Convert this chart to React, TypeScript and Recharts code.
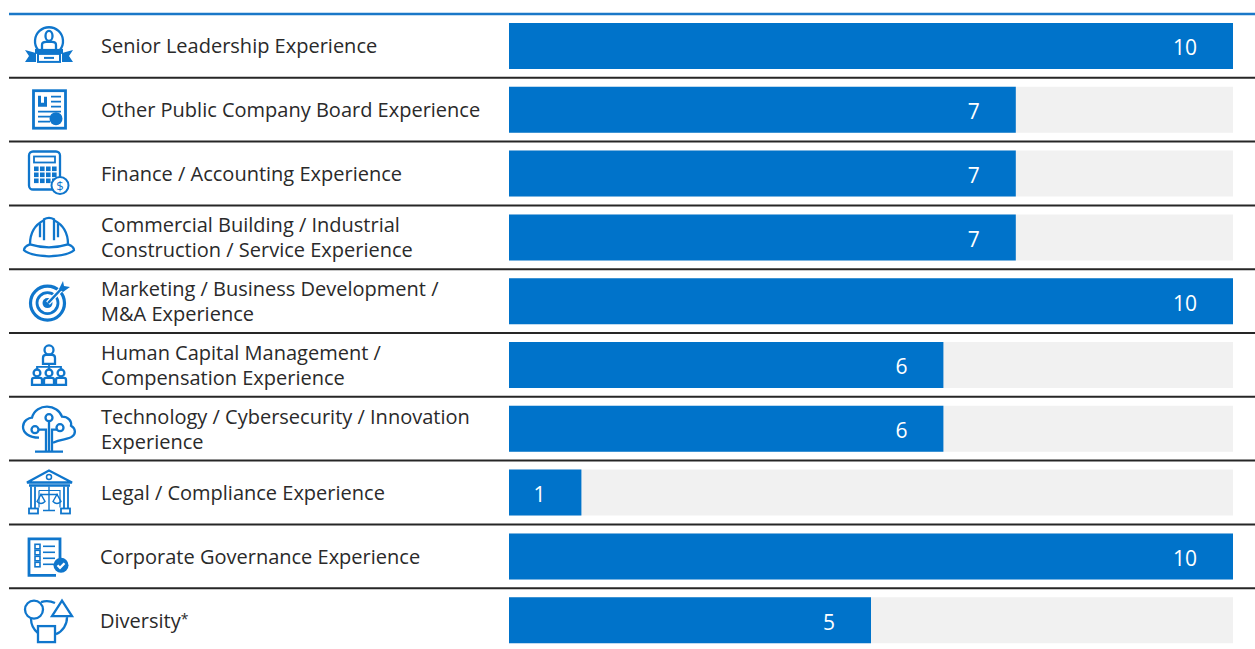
import { BarChart, Bar, XAxis, YAxis, LabelList } from 'recharts';

const categories = [
  'Senior Leadership Experience',
  'Other Public Company Board Experience',
  'Finance / Accounting Experience',
  'Commercial Building / Industrial\nConstruction / Service Experience',
  'Marketing / Business Development /\nM&A Experience',
  'Human Capital Management /\nCompensation Experience',
  'Technology / Cybersecurity / Innovation\nExperience',
  'Legal / Compliance Experience',
  'Corporate Governance Experience',
  'Diversity*',
];
const directorCounts = [10, 7, 7, 7, 10, 6, 6, 1, 10, 5];
const boardSize = 10;

const BLUE = '#0073ca';
const ICON_BLUE = '#0f76cc';
const TEXT = '#2a2a2a';
const FONT = '"Open Sans", sans-serif';
const PLOT_TOP = 14;
const PLOT_HEIGHT = 638;
const ROW = PLOT_HEIGHT / categories.length;

const data = categories.map((name, i) => ({ name, count: directorCounts[i] }));

const line = { fill: 'none', stroke: ICON_BLUE, strokeWidth: 2.3 };
const solid = { fill: ICON_BLUE, stroke: 'none' };

// icons are drawn around the row centre
const icons = [
  <g key="leader">
    <path d="M-11 4 A14 14 0 1 1 11 4" {...line} />
    <ellipse cx={0} cy={-10} rx={3.5} ry={5} {...line} />
    <path d="M-7 3 V-1 Q-7 -4 -3 -4 H3 Q7 -4 7 -1 V3" {...line} />
    <path d="M-24 4 L-13 7 V16 H-24 L-20 10 Z M24 4 L13 7 V16 H24 L20 10 Z" {...solid} />
    <rect x={-14} y={3} width={28} height={5} {...solid} />
    <rect x={-11} y={8} width={22} height={8} fill="#fff" stroke={ICON_BLUE} strokeWidth={2} />
    <rect x={-5} y={11} width={10} height={2} {...solid} />
  </g>,
  <g key="report">
    <rect x={-15.5} y={-19} width={32} height={37.5} fill="none" stroke={ICON_BLUE} strokeWidth={2.8} />
    <path d="M-11 -14 H-8 V-7 H-5 V-13 H-2 V-3 H-11 Z" {...solid} />
    <path d="M2 -13 H12 M2 -8 H12 M2 -3 H12 M-11 2 H12 M-11 7 H1 M-11 12 H1" {...line} strokeWidth={1.8} />
    <circle cx={7} cy={9} r={6.5} {...solid} />
  </g>,
  <g key="calc">
    <rect x={-20} y={-22} width={31} height={38} rx={4} {...line} />
    <rect x={-15} y={-17} width={21} height={6} {...line} strokeWidth={1.8} />
    {[-7, -1, 5].map((y) => [-15, -9, -3, 3].map((x) => (
      <rect key={`${x}${y}`} x={x} y={y} width={4.6} height={4.6} {...solid} />
    )))}
    <circle cx={11} cy={12} r={8.5} fill="#fff" stroke={ICON_BLUE} strokeWidth={2} />
    <text x={11} y={17} textAnchor="middle" fontSize={13} fontFamily={FONT} fill={ICON_BLUE}>$</text>
  </g>,
  <g key="helmet">
    <path d="M-19 7 C-19 -6 -13 -13 -5 -17 M5 -17 C13 -13 19 -6 19 7" {...line} />
    <path d="M-9 0 V-14 M-5 3 V-18 Q0 -21 5 -18 V3 M9 0 V-14" {...line} />
    <path d="M-19 7 Q0 13 19 7 Q25 9 25 13 Q20 18 0 19 Q-20 18 -25 13 Q-25 9 -19 7 Z" {...line} />
  </g>,
  <g key="target">
    <circle cx={-1.5} cy={2} r={17} fill="none" stroke={ICON_BLUE} strokeWidth={3.2} />
    <circle cx={-1.5} cy={2} r={10.5} fill="none" stroke={ICON_BLUE} strokeWidth={2.8} />
    <circle cx={-1.5} cy={2} r={5} {...solid} />
    <path d="M-1 2 L14 -14" {...line} stroke="#fff" strokeWidth={5} />
    <path d="M-1 2 L14 -14" {...line} />
    <path d="M10 -12 L14 -20 L15 -15 L21 -14 L14 -9 Z" {...solid} />
  </g>,
  <g key="people">
    <circle cx={0} cy={-15} r={4.5} {...line} />
    <path d="M-6 -1 V-7 Q-6 -10 -3 -10 H3 Q6 -10 6 -7 V-1 Z" {...line} />
    <path d="M0 -1 V5 M-12 5 V2 H12 V5" {...line} strokeWidth={1.8} />
    {[-12, 0, 12].map((x) => (
      <g key={x}>
        <circle cx={x} cy={8} r={3.4} {...line} />
        <path d={`M${x - 5} 20 V15 Q${x - 5} 13 ${x - 3} 13 H${x + 3} Q${x + 5} 13 ${x + 5} 15 V20 Z`} {...line} />
      </g>
    ))}
  </g>,
  <g key="tree">
    <path d="M-10 9 C-20 9 -26 4 -26 -2 C-26 -8 -20 -11 -17 -11 C-15 -19 -8 -22 -2 -22 C5 -22 11 -18 13 -12 C19 -12 23 -8 22 -3 C27 0 27 5 23 8 C19 11 12 10 4 14" {...line} />
    <path d="M-3 22 V1 H-10 M0 22 V-7 M3 22 V1 H8 M-14 23 H14" {...line} />
    <circle cx={0} cy={-11} r={3.5} {...line} />
    <circle cx={-14} cy={1} r={3.5} {...line} />
    <circle cx={11} cy={-1} r={3.5} {...line} />
  </g>,
  <g key="court">
    <path d="M-22 -10 L0 -22 L23 -10 Z" {...line} />
    <circle cx={0} cy={-15.5} r={2.5} {...line} strokeWidth={1.5} />
    <path d="M-20 -7 H21" {...line} />
    <path d="M-18 -6 V16 M-14 -6 V16 M15 -6 V16 M19 -6 V16" {...line} strokeWidth={1.8} />
    <path d="M-10 -2 H11 V15 M-10 -2 V15" {...line} strokeWidth={1.2} />
    <path d="M0 -6 V18 M-6 18 H6 M-9 2 H9 M-12 9 L-8 2 L-4 9 Q-8 13 -12 9 Z M4 9 L8 2 L12 9 Q8 13 4 9 Z" {...line} strokeWidth={1.4} />
    <rect x={-20} y={16} width={9} height={5} {...line} strokeWidth={1.8} />
    <rect x={12} y={16} width={9} height={5} {...line} strokeWidth={1.8} />
  </g>,
  <g key="checklist">
    <path d="M7 19 H-20 V-17.5 H11 V2" fill="none" stroke={ICON_BLUE} strokeWidth={2.8} />
    {[-12, -6, 0, 6].map((y) => (
      <g key={y}>
        <rect x={-14} y={y} width={5} height={4.5} {...line} strokeWidth={1.6} />
        <path d={`M-6 ${y + 2} H6`} {...line} strokeWidth={1.6} />
      </g>
    ))}
    <circle cx={12} cy={9} r={7.5} {...solid} />
    <path d="M8.5 9 L11 11.5 L15.5 7" {...line} stroke="#fff" />
  </g>,
  <g key="shapes">
    <circle cx={-15} cy={-10.5} r={9} {...line} />
    <path d="M3 -4 L13 -19.5 L23 -4 Z" {...line} />
    <rect x={-11} y={6} width={17} height={16} {...line} />
    <path d="M-8 -18 A18 18 0 0 1 6 -17 M-18 -1 A18 18 0 0 0 -11 13 M18 -3 A18 18 0 0 1 7 14" {...line} />
  </g>,
];

function RowTick({ y, index, payload }: any) {
  const top = y - ROW / 2;
  const lines = String(payload.value).split('\n');
  const textX = index >= 8 ? 100 : 101;
  return (
    <g>
      <line
        x1={9}
        x2={1255}
        y1={top}
        y2={top}
        stroke={index === 0 ? '#1a78c8' : '#262626'}
        strokeWidth={index === 0 ? 2.5 : 2}
      />
      <g transform={`translate(49 ${y})`}>{icons[index]}</g>
      <text
        x={textX}
        y={y}
        fontSize={20}
        fontFamily={FONT}
        fill={TEXT}
        textAnchor="start"
      >
        {lines.map((t, i) => (
          <tspan key={t} x={textX} y={y + 7.5 + (i - (lines.length - 1) / 2) * 25}>
            {t.replace('*', '')}
            {t.endsWith('*') && <tspan fontSize={14} dy={-4}>*</tspan>}
          </tspan>
        ))}
      </text>
    </g>
  );
}

export default function App() {
  return (
    <div style={{ position: 'absolute', left: 0, top: 0, width: 1255, height: 649, overflow: 'hidden', background: '#fff' }}>
      <BarChart
        width={1255}
        height={PLOT_TOP + PLOT_HEIGHT}
        data={data}
        layout="vertical"
        margin={{ top: PLOT_TOP, right: 22, bottom: 0, left: 0 }}
      >
        <XAxis type="number" domain={[0, boardSize]} hide />
        <YAxis
          type="category"
          dataKey="name"
          width={509}
          interval={0}
          axisLine={false}
          tickLine={false}
          tick={RowTick}
        />
        <Bar
          dataKey="count"
          fill={BLUE}
          barSize={46}
          background={{ fill: '#f1f1f1' }}
          isAnimationActive={false}
        >
          <LabelList
            dataKey="count"
            position="insideRight"
            offset={36}
            dy={2}
            fill="#fff"
            fontSize={21}
            fontFamily={FONT}
          />
        </Bar>
      </BarChart>
    </div>
  );
}
